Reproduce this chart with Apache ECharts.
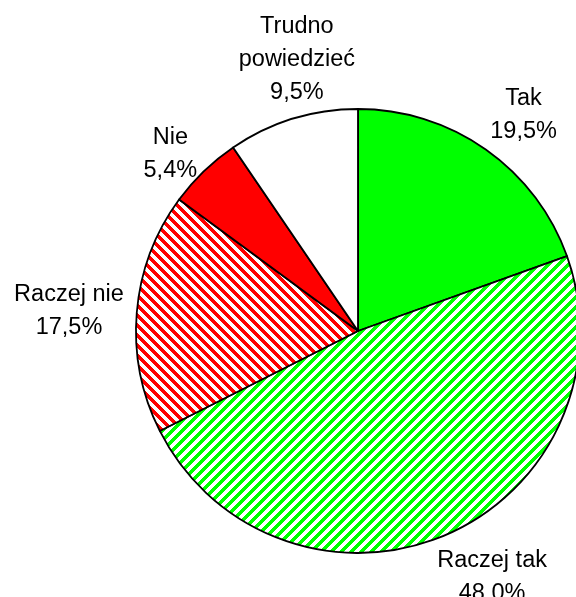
<!DOCTYPE html>
<html>
<head>
<meta charset="utf-8">
<script src="https://cdn.jsdelivr.net/npm/echarts@6/dist/echarts.min.js"></script>
<style>
  html, body { margin: 0; padding: 0; background: #fff; }
  #main { width: 576px; height: 597px; }
</style>
</head>
<body>
<div id="main"></div>
<script>
  var categories = ['Tak', 'Raczej tak', 'Raczej nie', 'Nie', 'Trudno\npowiedzieć'];
  var shares = [19.5, 48.0, 17.5, 5.4, 9.5];

  // diagonal stripe tile, dir 1 = '/', -1 = '\'
  function stripes(color, dir) {
    var size = 10;
    var c = document.createElement('canvas');
    c.width = size; c.height = size;
    var ctx = c.getContext('2d');
    ctx.fillStyle = '#fff';
    ctx.fillRect(0, 0, size, size);
    ctx.fillStyle = color;
    for (var x = 0; x < size; x++) {
      for (var y = 0; y < size; y++) {
        var k = dir > 0 ? (x + y) : (x - y + size);
        if (k % size < 5) ctx.fillRect(x, y, 1, 1);
      }
    }
    return { image: c, repeat: 'repeat' };
  }

  var fills = ['#00ff00', stripes('#00ff00', 1), stripes('#ff0000', -1), '#ff0000', '#ffffff'];
  // small nudges so labels sit where the original placed them
  var labelNudge = [[5, 12], [24, -10], [-11, 3], [6, 24], [21, -5]];

  function fmt(v) {
    return v.toFixed(1).replace('.', ',') + '%';
  }

  var myChart = echarts.init(document.getElementById('main'));

  var option = {
    animation: false,
    series: [{
      type: 'pie',
      center: [358, 331],
      radius: 222,
      startAngle: 90,
      silent: true,
      label: { show: false },
      labelLine: { show: false },
      itemStyle: {
        borderColor: '#000',
        borderWidth: 1.8
      },
      data: shares.map(function (v, i) {
        return { name: categories[i], value: v, itemStyle: { color: fills[i] } };
      })
    }, {
      // invisible ring that only carries the labels
      type: 'pie',
      center: [358, 331],
      radius: [255, 297],
      startAngle: 90,
      silent: true,
      itemStyle: { color: 'rgba(0,0,0,0)', borderWidth: 0 },
      label: {
        show: true,
        position: 'inside',
        color: '#000',
        fontFamily: 'Liberation Sans, Arial, sans-serif',
        fontSize: 23.5,
        lineHeight: 33,
        align: 'center',
        formatter: function (p) {
          return p.name + '\n' + fmt(p.value);
        }
      },
      labelLine: { show: false },
      data: shares.map(function (v, i) {
        return { name: categories[i], value: v, label: { offset: labelNudge[i] } };
      })
    }]
  };
  myChart.setOption(option);
</script>
</body>
</html>
